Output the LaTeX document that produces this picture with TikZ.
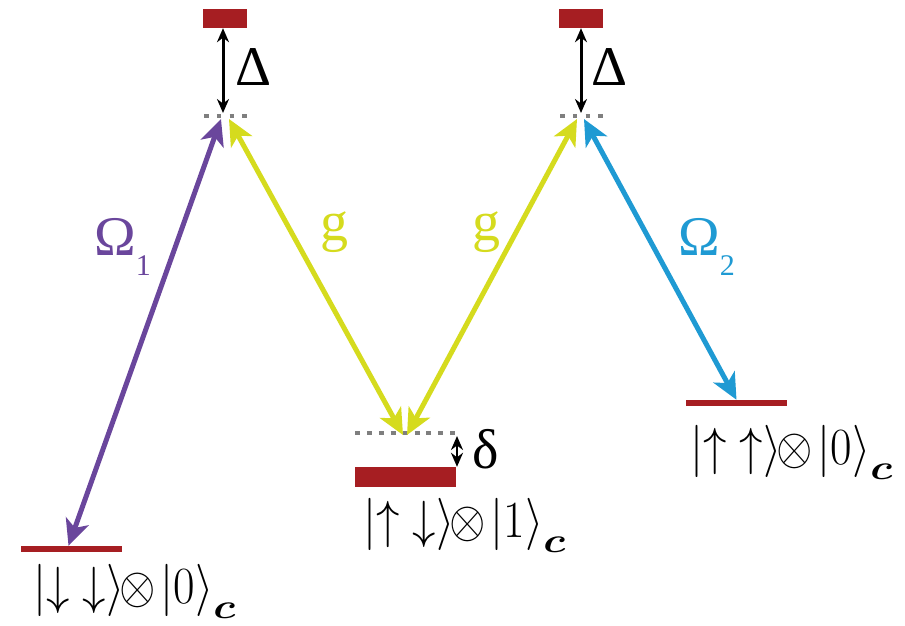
\documentclass[tikz,border=0pt]{standalone}
\usepackage{amsmath}
\usepackage{bm}
\usepackage{graphicx}
\usepackage{fontspec}
\setmainfont{Liberation Serif}
\usepackage{xcolor}
\definecolor{level}{HTML}{A61E22}
\definecolor{pumpone}{HTML}{6A469C}
\definecolor{cavity}{HTML}{D5DB1E}
\definecolor{pumptwo}{HTML}{1F9AD3}
\definecolor{virt}{HTML}{7F7F7F}
\usepackage{tikz}
\usetikzlibrary{arrows.meta}
\newcommand{\cavsub}{\lower3.5pt\hbox{\scalebox{1.1}[0.8]{$\scriptstyle\bm c$}}}

\begin{document}
\begin{tikzpicture}[x=1pt,y=-1pt,
    bar/.style={fill=level,inner sep=0pt,minimum width=101pt},
    virtual/.style={draw=virt,line width=4pt},
    laser/.style={line width=5pt,
      {Stealth[length=26pt,width=24pt,inset=7pt]}-{Stealth[length=26pt,width=24pt,inset=7pt]}},
    detune/.style={line width=3pt,
      {Stealth[length=14pt,width=12pt]}-{Stealth[length=14pt,width=12pt]}},
    big/.style={font=\fontsize{56}{60}\selectfont,inner sep=0pt,anchor=base west},
    ket/.style={font=\Huge,xscale=1.88,yscale=2.1,transform shape,inner sep=0pt,anchor=base west}]
    \useasboundingbox (0,0) rectangle (905,626);
    \node[bar,minimum width=44pt,minimum height=19pt] (upL) at (225,18.5) {};
    \node[bar,minimum width=44pt,minimum height=19pt] (upR) at (581,18.5) {};
    \node[bar,minimum height=6pt] (dd) at (71.5,549) {};
    \node[bar,minimum height=20pt] (ud) at (405.5,477) {};
    \node[bar,minimum height=6pt] (uu) at (736.5,403) {};
    \coordinate (vL) at (225,116);
    \coordinate (vR) at (581,116);
    \coordinate (vM) at (405,433);
    \draw[virtual,dash pattern=on 4.5pt off 8.3pt] ([xshift=-21pt]vL) -- ([xshift=22pt]vL);
    \draw[virtual,dash pattern=on 4.5pt off 8.3pt] ([xshift=-21pt]vR) -- ([xshift=22pt]vR);
    \draw[virtual,dash pattern=on 5pt off 6.9pt] ([xshift=-50pt]vM) -- ([xshift=50pt]vM);
    \draw[laser,pumpone] ([xshift=-4pt,yshift=-3pt]vL) -- ([xshift=-3pt]dd.north);
    \draw[laser,cavity] ([xshift=4pt,yshift=-3pt]vL) -- ([xshift=-2pt,yshift=-2pt]vM);
    \draw[laser,cavity] ([xshift=2pt,yshift=-2pt]vM) -- ([xshift=-4pt,yshift=-3pt]vR);
    \draw[laser,pumptwo] ([xshift=3pt,yshift=-3pt]vR) -- (uu.north);
    \draw[detune] ([xshift=-2pt]upL.south) -- ([xshift=-2pt,yshift=3pt]vL);
    \draw[detune] (upR.south) -- ([yshift=3pt]vR);
    \draw[detune,line width=2.4pt] ([xshift=52pt,yshift=-3pt]vM) -- ([xshift=52pt]vM |- ud.north);
    \node[big] (DL) at (235,85) {Δ};
    \node[big] (DR) at (591,85) {Δ};
    \node[big] (dM) at (472,468) {δ};
    \node[big,pumpone] (O1) at (94,255) {Ω\raisebox{-20pt}{\fontsize{30}{32}\selectfont 1}};
    \node[big,pumptwo] (O2) at (678,255) {Ω\raisebox{-20pt}{\fontsize{30}{32}\selectfont 2}};
    \node[big,cavity] (gL) at (320,240) {g};
    \node[big,cavity] (gR) at (472,240) {g};
    \node[ket] (kdd) at (33,603) {$\lvert\downarrow\;\downarrow\rangle\mkern-2mu{\otimes}\mkern2mu\lvert0\rangle_{\cavsub}$};
    \node[ket] (kud) at (363,537) {$\lvert\uparrow\;\downarrow\rangle\mkern-2mu{\otimes}\mkern2mu\lvert1\rangle_{\cavsub}$};
    \node[ket] (kuu) at (690,464) {$\lvert\uparrow\;\uparrow\rangle\mkern-2mu{\otimes}\mkern2mu\lvert0\rangle_{\cavsub}$};
\end{tikzpicture}
\end{document}
